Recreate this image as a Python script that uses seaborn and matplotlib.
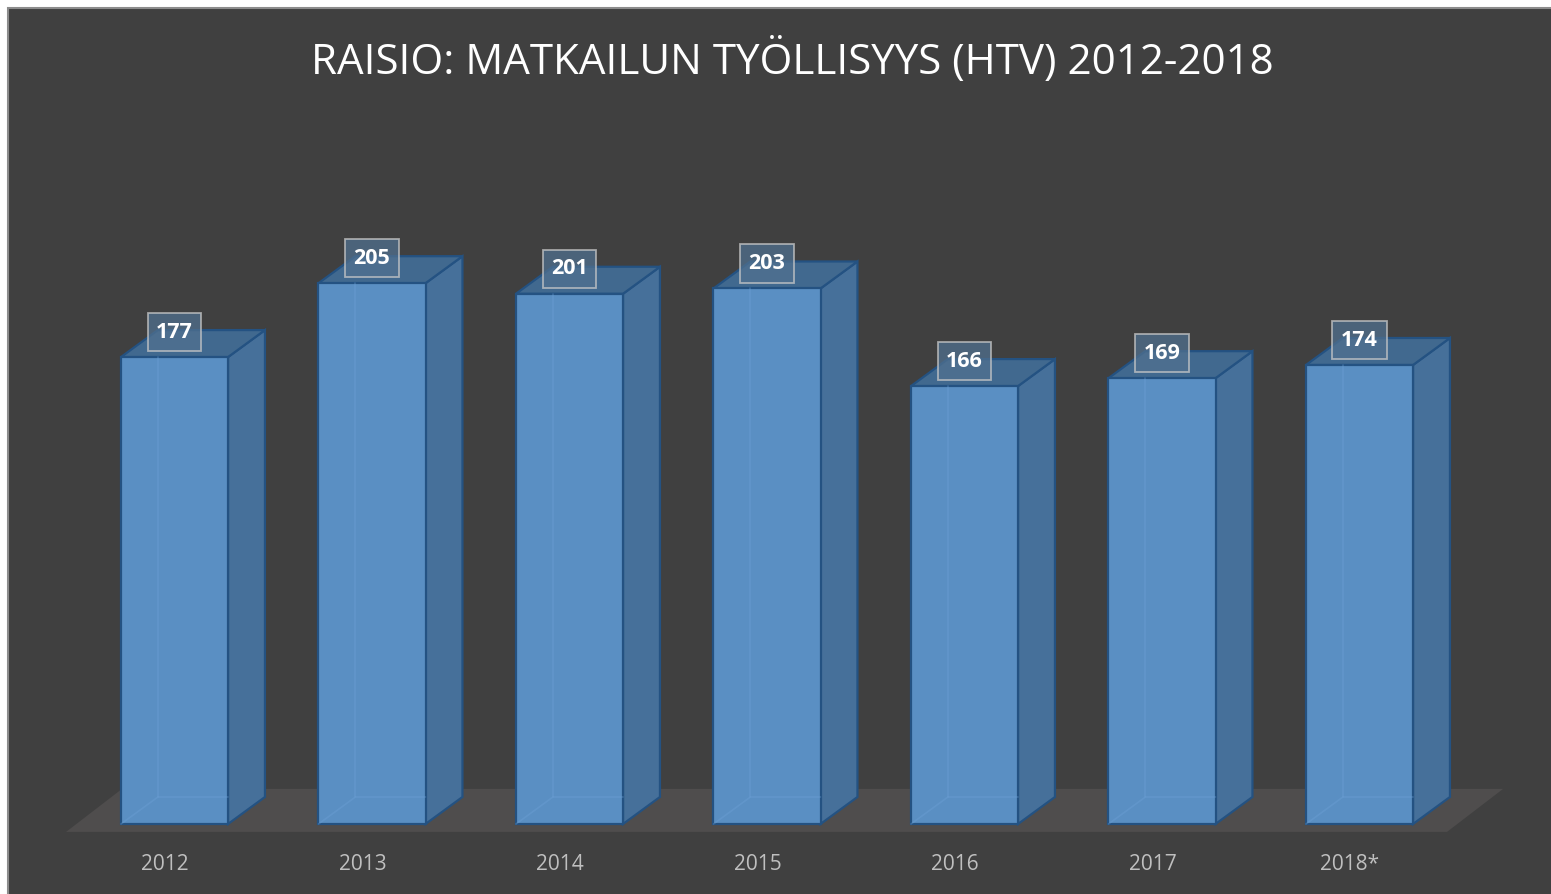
import matplotlib
matplotlib.use("Agg")
import matplotlib.pyplot as plt
import seaborn as sns
import numpy as np
import pandas as pd
from matplotlib.patches import Polygon, Rectangle

# Data
years = ['2012', '2013', '2014', '2015', '2016', '2017', '2018*']
htv = [177, 205, 201, 203, 166, 169, 174]
title = 'RAISIO: MATKAILUN TYÖLLISYYS (HTV) 2012-2018'

df = pd.DataFrame({'year': years, 'htv': htv})

# Colours
bg = '#404040'
front = '#5A8FC3'
side = '#46709A'
top = '#41698F'
edge = '#245282'
floor_c = '#4F4D4D'

sns.set_style("white")
plt.rcParams['font.family'] = ['Open Sans', 'DejaVu Sans']

fig = plt.figure(figsize=(15.51, 8.94), dpi=100)
fig.patch.set_facecolor('white')
# dark chart panel with thin gray border (only top/left visible)
fig.patches.append(Rectangle((8 / 1551, -0.05), 1.1, 1.05 - 8 / 894, transform=fig.transFigure,
                             facecolor=bg, edgecolor='#8C8C8C', linewidth=1.5, zorder=-10))

ax = fig.add_axes([0, 0, 1, 1])
ax.set_facecolor('none')

bar_w = 0.542
dx, dy = 0.187, 10.24  # depth of the pseudo-3D boxes

# floor
floor = Polygon([(-0.549, -3.0), (6.443, -3.0), (6.727, 13.3), (-0.266, 13.3)],
                closed=True, facecolor=floor_c, edgecolor='none', zorder=0)
ax.add_patch(floor)

sns.barplot(data=df, x='year', y='htv', width=bar_w, color=front, saturation=1,
            edgecolor=edge, linewidth=1.6, ax=ax, zorder=3)

for i, v in enumerate(htv):
    l, r = i - bar_w / 2, i + bar_w / 2
    # side face
    ax.add_patch(Polygon([(r, 0), (r + dx, dy), (r + dx, v + dy), (r, v)], closed=True,
                         facecolor=side, edgecolor=edge, linewidth=1.6, zorder=2))
    # top face
    ax.add_patch(Polygon([(l, v), (r, v), (r + dx, v + dy), (l + dx, v + dy)], closed=True,
                         facecolor=top, edgecolor=edge, linewidth=1.6, zorder=2))
    # faint back edges seen through the front
    ax.plot([l + dx, l + dx], [dy, v], color='#6FA3D8', alpha=0.35, lw=1.2, zorder=4)
    ax.plot([l, l + dx, r], [0, dy, dy], color='#6FA3D8', alpha=0.35, lw=1.2, zorder=4)
    # value label
    ax.text(i, v + dy - 0.8, str(v), ha='center', va='center', color='white',
            fontsize=15.5, fontweight='bold', zorder=6,
            bbox=dict(boxstyle='square,pad=0.4', facecolor='#50708F', alpha=0.75,
                      edgecolor='#C8C8C8', linewidth=1.3))
    # category label
    ax.text(i - 0.048, -15.2, years[i], ha='center', va='center', color='#BFBFBF',
            fontsize=15, zorder=6)

ax.set_xlim(-0.8835, 6.9696)
ax.set_ylim(-26.535, 312.36)
ax.set_axis_off()

fig.text(792 / 1551, 1 - 61 / 894, title, ha='center', va='center', color='white',
         fontsize=30.3)

plt.savefig('out.png', dpi=100, facecolor=fig.get_facecolor())
